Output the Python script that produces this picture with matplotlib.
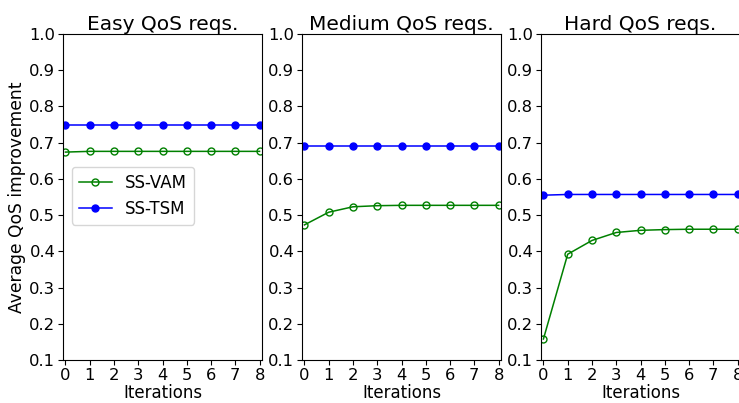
import numpy as np
import matplotlib
matplotlib.use('Agg')
import matplotlib.pyplot as plt

iterations = np.arange(9)
titles = ['Easy QoS reqs.', 'Medium QoS reqs.', 'Hard QoS reqs.']

# SS-VAM values per difficulty
vam_easy = [0.674, 0.676, 0.676, 0.676, 0.676, 0.676, 0.676, 0.676, 0.676]
vam_medium = [0.473, 0.508, 0.523, 0.526, 0.527, 0.527, 0.527, 0.527, 0.527]
vam_hard = [0.158, 0.392, 0.430, 0.452, 0.458, 0.460, 0.461, 0.461, 0.461]

# SS-TSM values per difficulty
tsm_easy = [0.750, 0.750, 0.750, 0.750, 0.750, 0.750, 0.750, 0.750, 0.750]
tsm_medium = [0.692, 0.692, 0.692, 0.692, 0.692, 0.692, 0.692, 0.692, 0.692]
tsm_hard = [0.555, 0.557, 0.557, 0.557, 0.557, 0.557, 0.557, 0.557, 0.557]

vam = [vam_easy, vam_medium, vam_hard]
tsm = [tsm_easy, tsm_medium, tsm_hard]

fig = plt.figure(figsize=(7.39, 4.03), dpi=100)
lefts = [63, 302, 541]
for i in range(3):
    ax = fig.add_axes([lefts[i] / 739.0, 43 / 403.0, 199 / 739.0, 326 / 403.0])
    ax.plot(iterations, vam[i], marker='o', color='green', markerfacecolor='none',
            markersize=5, linewidth=1.1, label='SS-VAM')
    ax.plot(iterations, tsm[i], marker='o', color='blue', markersize=5,
            linewidth=1.1, label='SS-TSM')
    ax.set_ylim(0.1, 1.0)
    ax.set_xlim(-0.1, 8.1)
    ax.set_xticks(iterations)
    ax.set_yticks(np.arange(0.1, 1.01, 0.1))
    ax.set_yticklabels(['%.1f' % v for v in np.arange(0.1, 1.01, 0.1)])
    ax.tick_params(labelsize=11.8, pad=2)
    ax.set_title(titles[i], fontsize=14.5, pad=3)
    ax.set_xlabel('Iterations', fontsize=12, labelpad=1)
    if i == 0:
        ax.set_ylabel('Average QoS improvement', fontsize=12.3, labelpad=2)
        leg = ax.legend(loc='lower left', bbox_to_anchor=(0.045, 0.415),
                        borderaxespad=0, fontsize=12)

fig.savefig('out.png', dpi=100)
